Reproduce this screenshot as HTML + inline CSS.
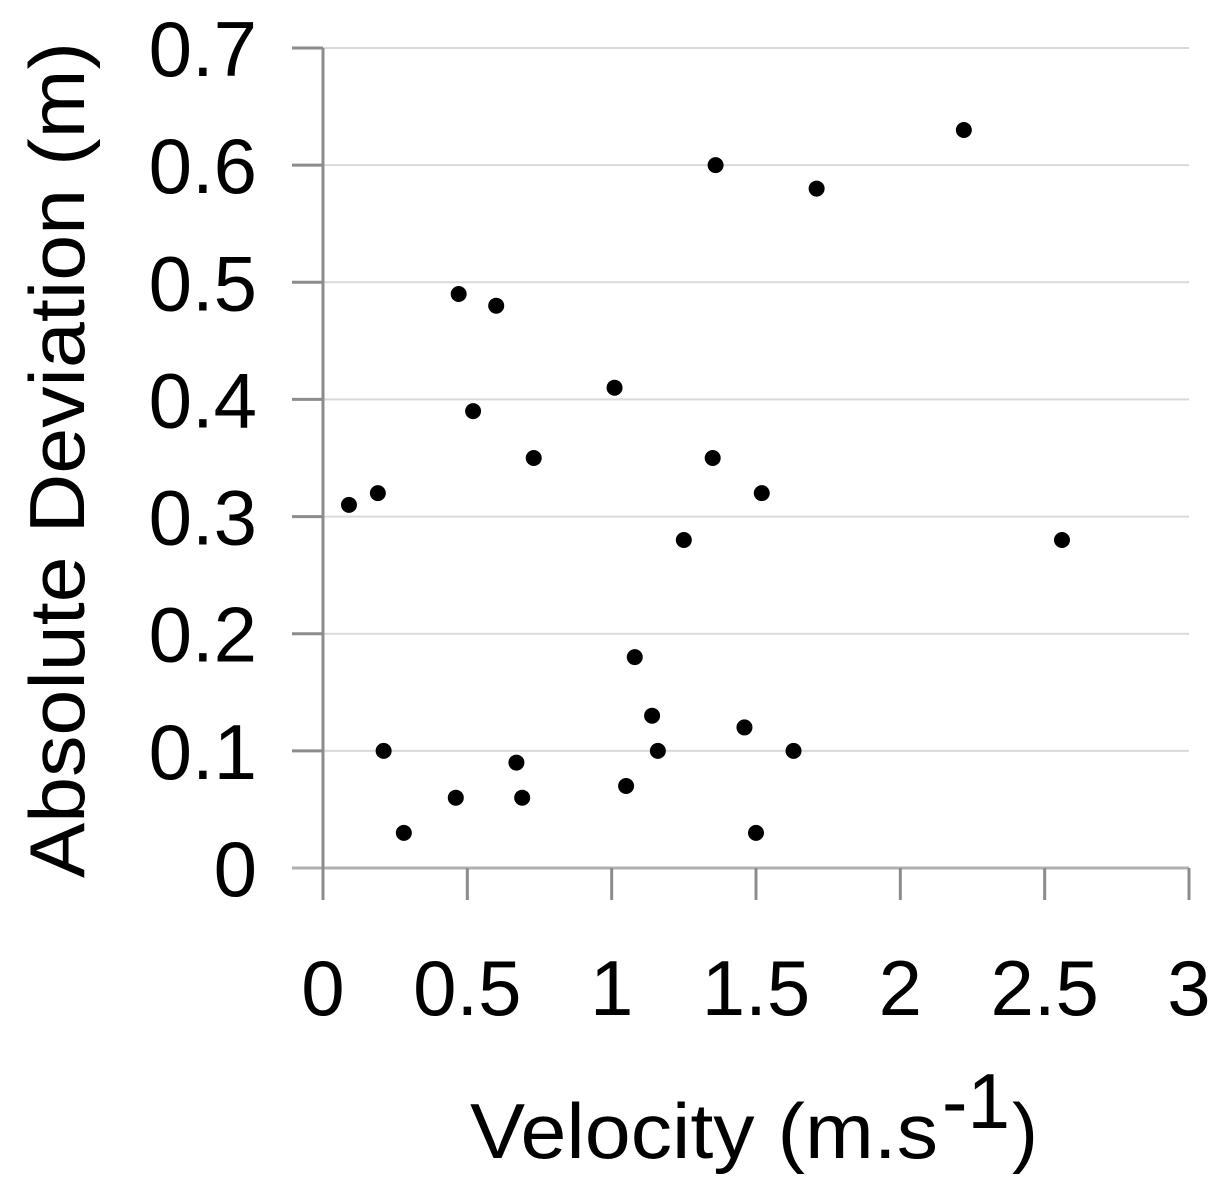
<!DOCTYPE html>
<html><head><meta charset="utf-8"><style>
html,body{margin:0;padding:0;background:#fff;}
svg{display:block;font-family:"Liberation Sans",sans-serif;}
</style></head><body>
<svg id="chart" width="1222" height="1199" viewBox="0 0 1222 1199" xmlns="http://www.w3.org/2000/svg">
<g id="grid"></g>
<g id="axes"></g>
<g id="points"></g>
<text transform="translate(84,460) rotate(-90)" text-anchor="middle" font-size="78" textLength="836" lengthAdjust="spacingAndGlyphs" fill="#000">Absolute Deviation (m)</text>
<g fill="#000">
<text x="470" y="1158" font-size="78" textLength="468" lengthAdjust="spacingAndGlyphs">Velocity (m.s</text>
<text x="942" y="1128" font-size="78" textLength="68" lengthAdjust="spacingAndGlyphs">-1</text>
<text x="1012" y="1158" font-size="78">)</text>
</g>
</svg>
<script>
const xVals=[0.09,0.19,0.21,0.28,0.46,0.47,0.52,0.60,0.67,0.69,0.73,1.01,1.05,1.08,1.14,1.16,1.25,1.35,1.36,1.46,1.50,1.52,1.63,1.71,2.22,2.56];
const yVals=[0.31,0.32,0.10,0.03,0.06,0.49,0.39,0.48,0.09,0.06,0.35,0.41,0.07,0.18,0.13,0.10,0.28,0.35,0.60,0.12,0.03,0.32,0.10,0.58,0.63,0.28];
const xTicks=[0,0.5,1,1.5,2,2.5,3];
const xTickLabels=["0","0.5","1","1.5","2","2.5","3"];
const yTicks=[0,0.1,0.2,0.3,0.4,0.5,0.6,0.7];
const yTickLabels=["0","0.1","0.2","0.3","0.4","0.5","0.6","0.7"];

const NS="http://www.w3.org/2000/svg";
const X0=323,X1=1189,Y0=868,Y1=48;
const sx=v=>X0+(v-0)/(3-0)*(X1-X0);
const sy=v=>Y0-(v-0)/(0.7-0)*(Y0-Y1);
function mk(tag,attrs,parent){const e=document.createElementNS(NS,tag);for(const k in attrs)e.setAttribute(k,attrs[k]);parent.appendChild(e);return e;}
const grid=document.getElementById('grid'),axes=document.getElementById('axes'),pts=document.getElementById('points');
yTicks.forEach((t,i)=>{
  const y=sy(t);
  if(t>0){const g=mk('line',{x1:X0,x2:X1,y1:y,y2:y,stroke:'#d9d9d9','stroke-width':2},grid);
  
  }
  const tk=mk('line',{x1:292,x2:X0,y1:y,y2:y,stroke:'#8c8c8c','stroke-width':3},axes);
  
  
  const lb=mk('text',{x:257,y:y+28,'text-anchor':'end','font-size':78,fill:'#000'},axes);
  lb.textContent=yTickLabels[i];
  
  
});
const xa=mk('line',{x1:292,x2:X1,y1:Y0,y2:Y0,stroke:'#b0b0b0','stroke-width':3},axes);


const ya=mk('line',{x1:X0,x2:X0,y1:Y1,y2:900,stroke:'#8c8c8c','stroke-width':3},axes);


xTicks.forEach((t,i)=>{
  const x=sx(t);
  const tk=mk('line',{x1:x,x2:x,y1:Y0,y2:900,stroke:'#8c8c8c','stroke-width':3},axes);
  
  
  const lb=mk('text',{x:x,y:1015,'text-anchor':'middle','font-size':78,fill:'#000'},axes);
  lb.textContent=xTickLabels[i];
  
  
});
xVals.forEach((v,i)=>{
  const c=mk('circle',{cx:sx(v),cy:sy(yVals[i]),r:8,fill:'#000'},pts);
  
  
});
</script>
</body></html>
